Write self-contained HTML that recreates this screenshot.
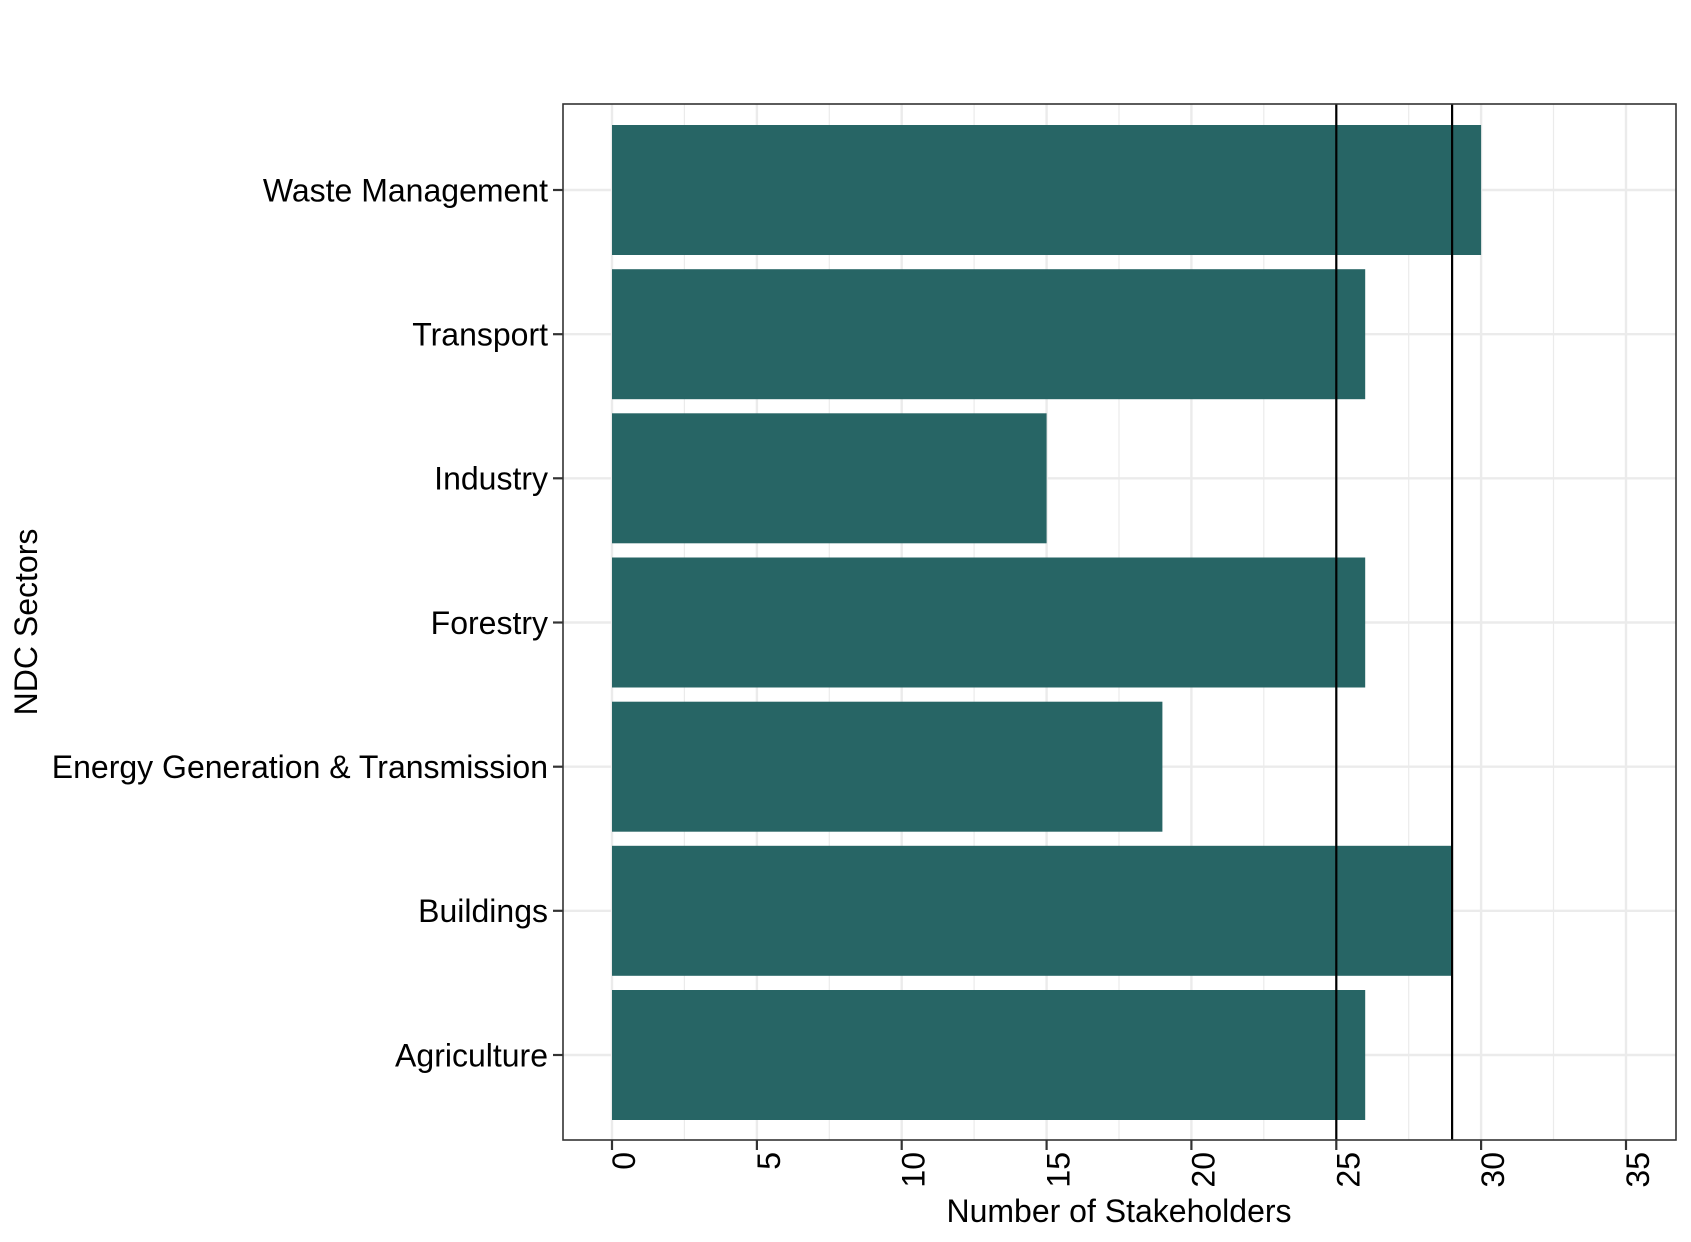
<!DOCTYPE html>
<html><head><meta charset="utf-8"><style>html,body{margin:0;padding:0;background:#fff}svg{display:block}</style></head>
<body>
<svg width="1691" height="1242" xmlns="http://www.w3.org/2000/svg" font-family="Liberation Sans, Arial, sans-serif">
<rect width="1691" height="1242" fill="#fff"/>
<g stroke="#ebebeb" stroke-width="1.2">
<line x1="684.4" y1="104" x2="684.4" y2="1140"/><line x1="829.3" y1="104" x2="829.3" y2="1140"/><line x1="974.1" y1="104" x2="974.1" y2="1140"/><line x1="1119" y1="104" x2="1119" y2="1140"/><line x1="1263.8" y1="104" x2="1263.8" y2="1140"/><line x1="1408.7" y1="104" x2="1408.7" y2="1140"/><line x1="1553.5" y1="104" x2="1553.5" y2="1140"/>
</g>
<g stroke="#ebebeb" stroke-width="2.4">
<line x1="612" y1="104" x2="612" y2="1140"/><line x1="756.9" y1="104" x2="756.9" y2="1140"/><line x1="901.7" y1="104" x2="901.7" y2="1140"/><line x1="1046.6" y1="104" x2="1046.6" y2="1140"/><line x1="1191.4" y1="104" x2="1191.4" y2="1140"/><line x1="1336.3" y1="104" x2="1336.3" y2="1140"/><line x1="1481.1" y1="104" x2="1481.1" y2="1140"/><line x1="1626" y1="104" x2="1626" y2="1140"/>
<line x1="563" y1="190" x2="1676" y2="190"/><line x1="563" y1="334.2" x2="1676" y2="334.2"/><line x1="563" y1="478.3" x2="1676" y2="478.3"/><line x1="563" y1="622.5" x2="1676" y2="622.5"/><line x1="563" y1="766.7" x2="1676" y2="766.7"/><line x1="563" y1="910.8" x2="1676" y2="910.8"/><line x1="563" y1="1055" x2="1676" y2="1055"/>
</g>
<g fill="#276565">
<rect x="612" y="125" width="869.1" height="130"/>
<rect x="612" y="269.2" width="753.2" height="130"/>
<rect x="612" y="413.3" width="434.6" height="130"/>
<rect x="612" y="557.5" width="753.2" height="130"/>
<rect x="612" y="701.7" width="550.4" height="130"/>
<rect x="612" y="845.8" width="840.1" height="130"/>
<rect x="612" y="990" width="753.2" height="130"/>
</g>
<g stroke="#000" stroke-width="2.2">
<line x1="1336.3" y1="104" x2="1336.3" y2="1140"/><line x1="1452.1" y1="104" x2="1452.1" y2="1140"/>
</g>
<rect x="563" y="104" width="1113" height="1036" fill="none" stroke="#333" stroke-width="1.6"/>
<g stroke="#333" stroke-width="2.2">
<line x1="553" y1="190" x2="563" y2="190"/><line x1="553" y1="334.2" x2="563" y2="334.2"/><line x1="553" y1="478.3" x2="563" y2="478.3"/><line x1="553" y1="622.5" x2="563" y2="622.5"/><line x1="553" y1="766.7" x2="563" y2="766.7"/><line x1="553" y1="910.8" x2="563" y2="910.8"/><line x1="553" y1="1055" x2="563" y2="1055"/>
<line x1="612" y1="1140" x2="612" y2="1150"/><line x1="756.9" y1="1140" x2="756.9" y2="1150"/><line x1="901.7" y1="1140" x2="901.7" y2="1150"/><line x1="1046.6" y1="1140" x2="1046.6" y2="1150"/><line x1="1191.4" y1="1140" x2="1191.4" y2="1150"/><line x1="1336.3" y1="1140" x2="1336.3" y2="1150"/><line x1="1481.1" y1="1140" x2="1481.1" y2="1150"/><line x1="1626" y1="1140" x2="1626" y2="1150"/>
</g>
<g font-size="32" fill="#000" text-anchor="end">
<text x="548" y="201.5">Waste Management</text>
<text x="548" y="345.5">Transport</text>
<text x="548" y="489.5">Industry</text>
<text x="548" y="634">Forestry</text>
<text x="548" y="778">Energy Generation &amp; Transmission</text>
<text x="548" y="922">Buildings</text>
<text x="548" y="1066.5">Agriculture</text>
</g>
<g font-size="32" fill="#000" text-anchor="end">
<text transform="translate(635,1152) rotate(-90)">0</text>
<text transform="translate(780,1152) rotate(-90)">5</text>
<text transform="translate(924.7,1152) rotate(-90)">10</text>
<text transform="translate(1069.6,1152) rotate(-90)">15</text>
<text transform="translate(1214.4,1152) rotate(-90)">20</text>
<text transform="translate(1359.3,1152) rotate(-90)">25</text>
<text transform="translate(1504.1,1152) rotate(-90)">30</text>
<text transform="translate(1649,1152) rotate(-90)">35</text>
</g>
<text x="1119" y="1222" font-size="32" text-anchor="middle">Number of Stakeholders</text>
<text transform="translate(37,622) rotate(-90)" font-size="32" text-anchor="middle">NDC Sectors</text>
</svg>
</body></html>
